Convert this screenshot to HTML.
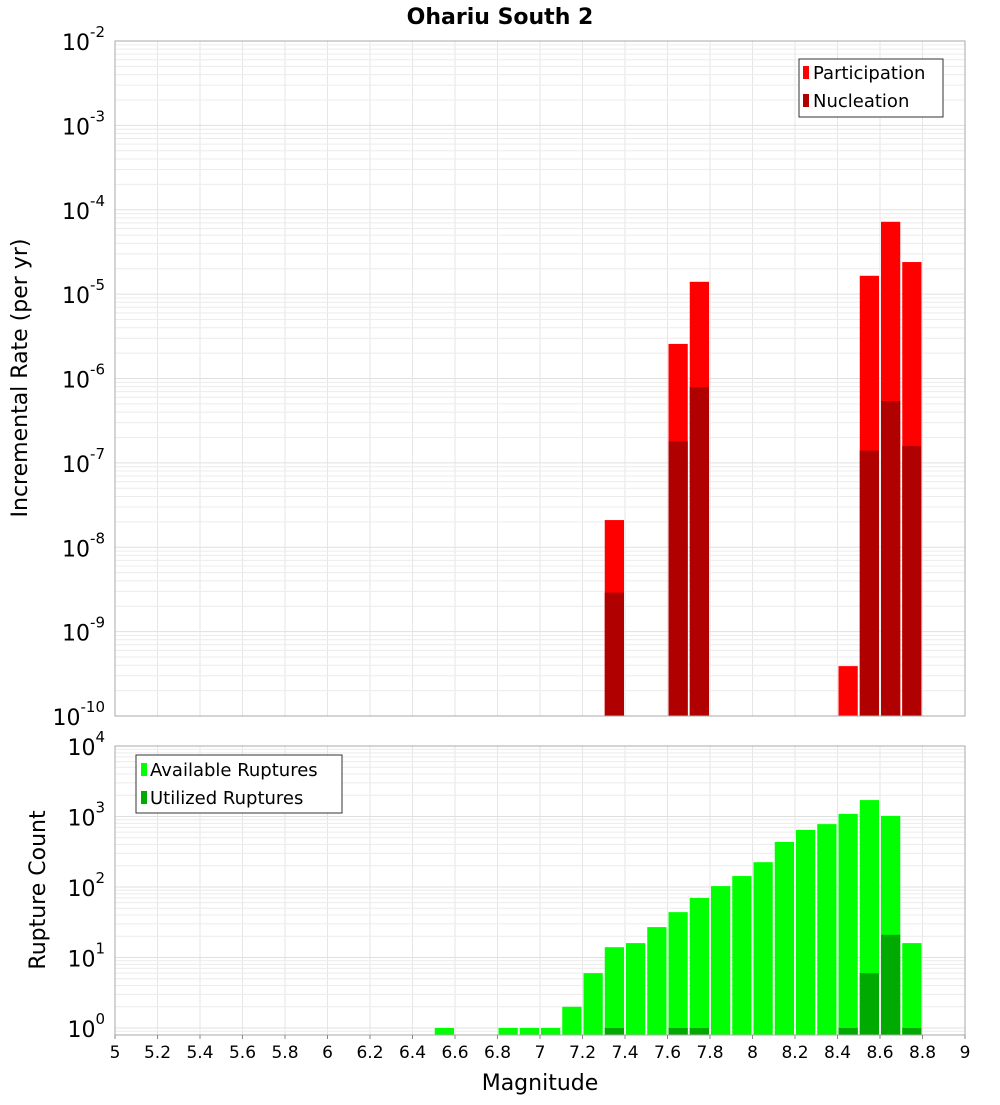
<!DOCTYPE html>
<html><head><meta charset="utf-8"><style>
body{margin:0;background:#fff;font-family:"Liberation Sans","DejaVu Sans",sans-serif}
svg text{font-family:"DejaVu Sans","Liberation Sans",sans-serif}
</style></head><body>
<svg id="chart" width="1000" height="1100" xmlns="http://www.w3.org/2000/svg">
<text x="500" y="24" text-anchor="middle" font-size="22" font-weight="bold">Ohariu South 2</text>
<g id="gtop"></g>
<g id="gbot"></g>
<text transform="translate(27,378) rotate(-90)" text-anchor="middle" font-size="22">Incremental Rate (per yr)</text>
<text transform="translate(45,890) rotate(-90)" text-anchor="middle" font-size="22">Rupture Count</text>
<text x="540" y="1090" text-anchor="middle" font-size="22">Magnitude</text>
<g>
<rect x="799" y="59" width="144" height="58" fill="#fff" stroke="#333"/>
<rect x="803" y="66" width="6" height="13" fill="#ff0000"/><text x="813" y="79" font-size="18">Participation</text>
<rect x="803" y="94" width="6" height="13" fill="#b00000"/><text x="813" y="107" font-size="18">Nucleation</text>
</g>
<g>
<rect x="136" y="755" width="206" height="58" fill="#fff" stroke="#333"/>
<rect x="141" y="763" width="6" height="13" fill="#00ff00"/><text x="150" y="776" font-size="18">Available Ruptures</text>
<rect x="141" y="791" width="6" height="13" fill="#00aa00"/><text x="150" y="804" font-size="18">Utilized Ruptures</text>
</g>
</svg>
<script>
const rateMags=[7.35,7.65,7.75,8.45,8.55,8.65,8.75];
const participation=[2.1e-8,2.57e-6,1.4e-5,3.9e-10,1.65e-5,7.2e-5,2.4e-5];
const nucleation=[2.9e-9,1.8e-7,7.9e-7,0,1.4e-7,5.4e-7,1.58e-7];
const countMags=[6.55,6.85,6.95,7.05,7.15,7.25,7.35,7.45,7.55,7.65,7.75,7.85,7.95,8.05,8.15,8.25,8.35,8.45,8.55,8.65,8.75];
const available=[1,1,1,1,2,6,14,16,27,44,70,103,143,225,436,645,780,1090,1710,1020,16];
const utilized=[0,0,0,0,0,0,1,0,0,1,1,0,0,0,0,0,0,1,6,21,1];
const xTicks=[5,5.2,5.4,5.6,5.8,6,6.2,6.4,6.6,6.8,7,7.2,7.4,7.6,7.8,8,8.2,8.4,8.6,8.8,9];
const rateExps=[-2,-3,-4,-5,-6,-7,-8,-9,-10];
const countExps=[4,3,2,1,0];
const NS="http://www.w3.org/2000/svg";
const X0=115,X1=965;
const xs=m=>X0+(m-5)/4*(X1-X0);
const T0=41,T1=716,yT=v=>T0+(-2-Math.log10(v))/8*(T1-T0);
const B0=746,B1=1035,BD=70.5,yB=v=>1028-Math.log10(v)*BD;
function mk(p,tag,a){const e=document.createElementNS(NS,tag);for(const k in a)e.setAttribute(k,a[k]);p.appendChild(e);return e;}
function panel(g,y0,y1,yf,exps,lo){
  const bg=mk(g,'rect',{x:X0,y:y0,width:X1-X0,height:y1-y0,fill:'#fff'});
  
  xTicks.forEach(t=>{const l=mk(g,'line',{x1:xs(t),x2:xs(t),y1:y0,y2:y1,stroke:'#e6e6e6'});
    });
  exps.forEach(e=>{for(let k=1;k<10;k++){const v=k*Math.pow(10,e);const y=yf(v);if(y<y0-0.5||y>y1)continue;
    const l=mk(g,'line',{x1:X0,x2:X1,y1:y,y2:y,stroke:k==1?'#e0e0e0':'#ececec'});
    }});
  if(lo!==undefined){for(let k=lo;k<10;k++){const y=yf(k*Math.pow(10,exps[exps.length-1]-1));if(y<y1){const l=mk(g,'line',{x1:X0,x2:X1,y1:y,y2:y,stroke:'#ececec'});}}}
}
function bar(g,m,v,yf,y1,fill,name){if(!v)return;const y=Math.max(yf(v),0);
  const r=mk(g,'rect',{x:xs(m-0.05)+1,y:y,width:xs(m+0.05)-xs(m-0.05)-2,height:y1-y,fill:fill});
  }
function frame(g,y0,y1){const r=mk(g,'rect',{x:X0,y:y0,width:X1-X0,height:y1-y0,fill:'none',stroke:'#aaa'});
  }
function ylabel(g,e,y){const t=mk(g,'text',{x:105,y:y+9,'text-anchor':'end','font-size':22});
  
  t.textContent='10';const s=mk(t,'tspan',{dy:-13,'font-size':15});s.textContent=String(e);}
const gTop=document.getElementById('gtop'),gBot=document.getElementById('gbot');
panel(gTop,T0,T1,yT,rateExps);
rateMags.forEach((m,i)=>bar(gTop,m,participation[i],yT,T1,'#ff0000','participation-bar'));
rateMags.forEach((m,i)=>bar(gTop,m,nucleation[i],yT,T1,'#b00000','nucleation-bar'));
frame(gTop,T0,T1);
rateExps.forEach(e=>ylabel(gTop,e,yT(Math.pow(10,e))));
panel(gBot,B0,B1,yB,countExps,8);
countMags.forEach((m,i)=>bar(gBot,m,available[i],yB,B1,'#00ff00','available-bar'));
countMags.forEach((m,i)=>bar(gBot,m,utilized[i],yB,B1,'#00aa00','utilized-bar'));
frame(gBot,B0,B1);
countExps.forEach(e=>ylabel(gBot,e,yB(Math.pow(10,e))));
xTicks.forEach(t=>{const l=mk(gBot,'line',{x1:xs(t),x2:xs(t),y1:B1,y2:B1+4,stroke:'#888'});
  
  const tx=mk(gBot,'text',{x:xs(t),y:1058,'text-anchor':'middle','font-size':17});
  tx.textContent=String(t);});
</script>
</body></html>
